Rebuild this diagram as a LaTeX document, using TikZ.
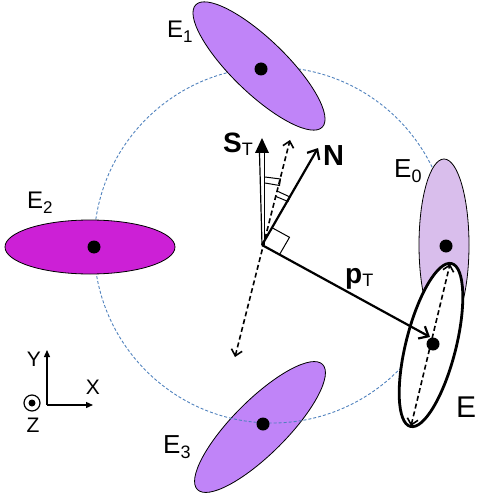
\documentclass[tikz,border=0pt]{standalone}
\usepackage{fontspec}
\setmainfont{Liberation Sans}
\usetikzlibrary{arrows.meta,shapes.geometric}
\definecolor{circblue}{RGB}{79,129,189}
\definecolor{violA}{RGB}{192,132,248}
\definecolor{magA}{RGB}{204,32,214}
\definecolor{lavA}{RGB}{217,190,236}
\newcommand{\lsub}[3]{\raisebox{-#1pt}{\fontsize{#2}{#2}\selectfont #3}}
\begin{document}
\begin{tikzpicture}[x=1pt,y=-1pt,
  ell/.style={ellipse, draw=black, line width=0.8pt, inner sep=0pt},
  dotc/.style={circle, fill=black, inner sep=0pt, minimum size=13pt},
  vec/.style={line width=2.2pt, -{Straight Barb[length=8pt,width=14pt]}},
  dvec/.style={line width=1.6pt, dash pattern=on 5pt off 3pt, {Straight Barb[length=6pt,width=11pt]}-{Straight Barb[length=6pt,width=11pt]}},
  axis/.style={line width=1.3pt, -{Triangle[length=7pt,width=6pt]}},
  lbl/.style={inner sep=0pt, anchor=base west},
  rmark/.style={line width=1pt}]
\useasboundingbox (0,0) rectangle (477,497);

% E3 (below the circle)
\node[ell, fill=violA, minimum width=177pt, minimum height=54pt, rotate=45] (E3) at (260,427) {};
% dashed circle
\draw[circblue, line width=0.9pt, dash pattern=on 3pt off 2pt] (272,245) circle (178);
% E1, E2, E0
\node[ell, fill=violA, minimum width=176pt, minimum height=54pt, rotate=-44] (E1) at (259,66) {};
\node[ell, fill=magA, minimum width=170pt, minimum height=54pt] (E2) at (90,247) {};
\node[ell, fill=lavA, minimum width=50pt, minimum height=172pt] (E0) at (444,245) {};
% E (white, thick)
\node[ellipse, draw=black, fill=white, line width=2.8pt, inner sep=0pt, minimum width=168pt, minimum height=50pt, rotate=75.8] (E) at (431,345) {};

% dots
\node[dotc] (d1) at (261,69) {};
\node[dotc] (d2) at (94,247) {};
\node[dotc] (d3) at (263,424) {};
\node[dotc] (d0) at (446,246) {};
\node[dotc] (dE) at (433,344) {};

% coordinates
\coordinate (O) at (262,245);
\coordinate (Tip) at (262,138);
\coordinate (Lb) at (259.5,153);
\coordinate (Rb) at (264.5,153);
\coordinate (Lo) at (259.5,245);
\coordinate (Ro) at (264.5,245);
\coordinate (Tl) at (255,153);
\coordinate (Tr) at (269,153);
\coordinate (dA) at (235,357);
\coordinate (dB) at (290,140);
\coordinate (Ntip) at (318,148);
\coordinate (ptip) at (430,337);
\coordinate (eA) at (411,426);
\coordinate (eB) at (450,264);

% S_T double arrow
\draw[line width=1.2pt] (O) -- (Lb);
\draw[line width=1.2pt] (Ro) -- (Rb);
\fill (Tip) -- (Tl) -- (Tr) -- cycle;
% dashed line through origin
\draw[dvec] (dA) -- (dB);
% N and p_T
\draw[vec] (O) -- (Ntip);
\draw[vec] (O) -- (ptip);
% dashed axis of E
\draw[dvec] (eA) -- (eB);

% right-angle marks
\draw[rmark] (279.5,254.6) -- (289.5,237.3) -- (272,227.7);
\draw[rmark] (265,177) -- (280.5,179) -- (279.5,185.5) -- (265,183);
\draw[rmark] (277,191) -- (290,197) -- (288,201.5) -- (276,196.5);

% labels
\node[lbl, font=\fontsize{24}{24}\selectfont] (lE1) at (167,38) {E\lsub{5}{17}{1}};
\node[lbl, font=\fontsize{24}{24}\selectfont] (lE2) at (27,208) {E\lsub{5}{17}{2}};
\node[lbl, font=\fontsize{26}{26}\selectfont] (lE0) at (394,177) {E\lsub{5}{18}{0}};
\node[lbl, font=\fontsize{26}{26}\selectfont] (lE3) at (163,453) {E\lsub{5}{18}{3}};
\node[lbl, font=\fontsize{30}{30}\selectfont] (lE) at (456,417) {E};
\node[lbl, font=\fontsize{28}{28}\selectfont] (lS) at (223,153) {\textbf{S}\lsub{3}{18}{T}};
\node[lbl, font=\fontsize{29}{29}\selectfont] (lN) at (323,165) {\textbf{N}};
\node[lbl, font=\fontsize{28}{28}\selectfont] (lp) at (345,283) {\textbf{p}\lsub{3}{18}{T}};

% axes
\coordinate (A0) at (47,405);
\coordinate (AY) at (47,350);
\coordinate (AX) at (93,405);
\draw[axis] (A0) -- (AY);
\draw[axis] (A0) -- (AX);
\node[circle, draw=black, line width=1.2pt, minimum size=16pt, inner sep=0pt] (zc) at (32,403) {};
\node[circle, fill=black, minimum size=7pt, inner sep=0pt] (zd) at (32,403) {};
\node[font=\fontsize{21}{21}\selectfont, inner sep=0pt] (lY) at (34,359) {Y};
\node[font=\fontsize{21}{21}\selectfont, inner sep=0pt] (lX) at (93,387) {X};
\node[font=\fontsize{21}{21}\selectfont, inner sep=0pt] (lZ) at (33,425) {Z};
\end{tikzpicture}
\end{document}
